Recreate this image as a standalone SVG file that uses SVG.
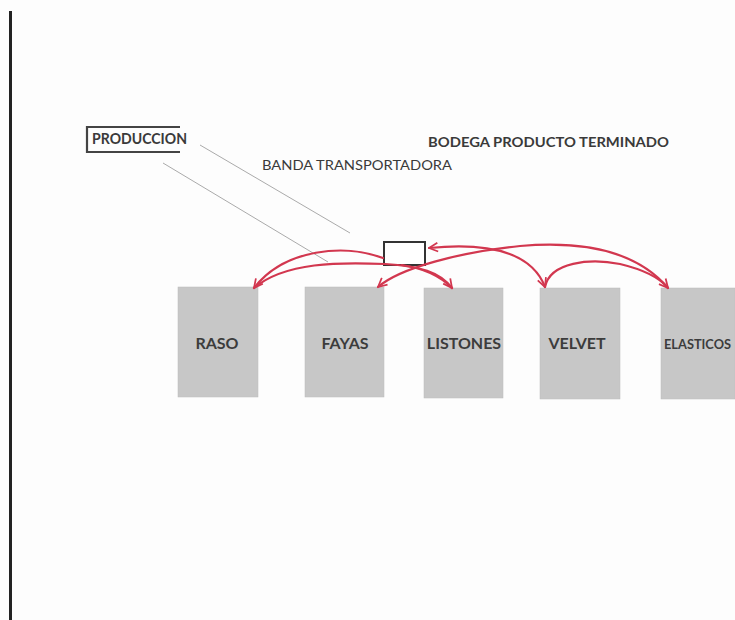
<svg xmlns="http://www.w3.org/2000/svg" width="735" height="620" viewBox="0 0 735 620">
<style>
.node rect{fill:#c7c7c7;stroke:#bdbdbd;stroke-width:0.5}
.node text{font-family:Lato,"Open Sans","Liberation Sans",sans-serif;font-weight:bold;font-size:16px;fill:#3c3c3c;text-anchor:middle}
.lbl{font-family:Lato,"Open Sans","Liberation Sans",sans-serif;fill:#3a3a3a}
.arr{fill:none;stroke:#d2374f;stroke-width:2.2;stroke-linecap:round}
.guide{stroke:#a0a0a0;stroke-width:0.9;fill:none}
</style>
<defs>
<marker id="ah" viewBox="0 0 10 10" refX="9" refY="5" markerWidth="5" markerHeight="5" orient="auto-start-reverse" markerUnits="strokeWidth">
<path d="M1,1 L9,5 L1,9" fill="none" stroke="#d2374f" stroke-width="1.6" stroke-linejoin="round"/>
</marker>
</defs>
<rect x="0" y="0" width="735" height="620" fill="#fdfdfd"/>
<line x1="10.5" y1="11" x2="10.5" y2="620" stroke="#222" stroke-width="3"/>

<g id="produccion">
<path d="M180,127 L87,127 L87,152 L180,152" fill="none" stroke="#444" stroke-width="2.2"/>
<text class="lbl" x="92" y="144" font-size="15" font-weight="bold" textLength="95" lengthAdjust="spacingAndGlyphs">PRODUCCION</text>
</g>
<g id="bodega">
<text class="lbl" x="428" y="147" font-size="14" font-weight="bold" textLength="241" lengthAdjust="spacingAndGlyphs">BODEGA PRODUCTO TERMINADO</text>
</g>
<g id="banda-label">
<text class="lbl" x="262" y="170" font-size="14" textLength="190" lengthAdjust="spacingAndGlyphs">BANDA TRANSPORTADORA</text>
</g>

<g id="guides">
<line class="guide" x1="200" y1="145" x2="350" y2="233"/>
<line class="guide" x1="163" y1="163" x2="328" y2="262"/>
</g>

<g id="banda">
<rect x="384" y="242" width="41" height="23" fill="#fff" stroke="#333" stroke-width="2"/>
</g>

<g id="raso" class="node"><rect x="178" y="287" width="80" height="110"/><text x="217" y="349">RASO</text></g>
<g id="fayas" class="node"><rect x="305" y="287" width="79" height="110"/><text x="345" y="349">FAYAS</text></g>
<g id="listones" class="node"><rect x="424" y="288" width="79" height="110"/><text x="464" y="349">LISTONES</text></g>
<g id="velvet" class="node"><rect x="540" y="288" width="80" height="111"/><text x="577" y="349">VELVET</text></g>
<g id="elasticos" class="node"><rect x="661" y="288" width="74" height="111"/><text x="664" y="349" style="text-anchor:start;font-size:13.5px" textLength="67" lengthAdjust="spacingAndGlyphs">ELASTICOS</text></g>

<g id="connectors">
<path class="arr" d="M383,258 C345,244 285,248 254,288" marker-end="url(#ah)"/>
<path class="arr" d="M254,288 C285,262 340,262 385,264 C420,266 440,272 452,288" marker-end="url(#ah)"/>
<path class="arr" d="M402,265 C422,268 440,276 452,288"/>
<path class="arr" d="M378,287 C400,268 460,252 520,246 C590,240 640,255 668,288" marker-start="url(#ah)" marker-end="url(#ah)"/>
<path class="arr" d="M429,248 C480,243 530,248 545,287" marker-start="url(#ah)" marker-end="url(#ah)"/>
<path class="arr" d="M545,287 C550,262 590,258 620,264 C645,270 660,278 668,288"/>
</g>
</svg>
